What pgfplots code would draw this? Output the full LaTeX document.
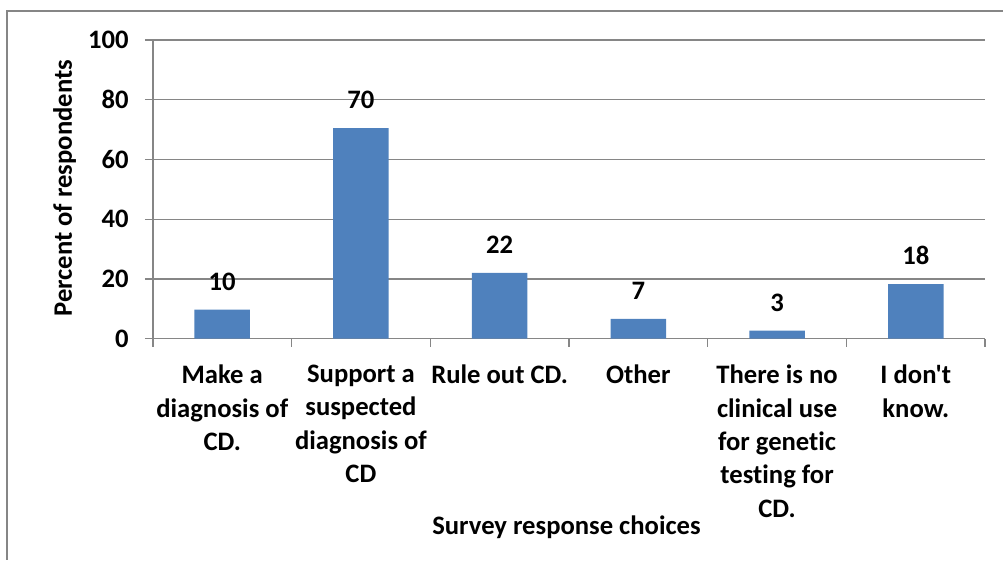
\documentclass[border=0pt]{standalone}
\usepackage{pgfplots}
\pgfplotsset{compat=1.18}
\usepackage{fontspec}
\setmainfont{Carlito}[Ligatures={TeXOff,CommonOff}]
\definecolor{barblue}{HTML}{4F81BD}
\definecolor{gridgray}{HTML}{868686}
\newcommand{\lbl}{\fontsize{20}{25.1}\selectfont\bfseries}
\begin{document}
\begin{tikzpicture}[x=0.75pt,y=0.75pt]
\path (0,0) rectangle (1004,560);
\draw[gridgray, line width=1.3pt] (7,0) -- (7,549) -- (1004,549);
\begin{axis}[
  at={(114.75pt,165.75pt)}, anchor=south west,
  scale only axis, width=624.75pt, height=224.25pt,
  xmin=-0.5, xmax=5.5, ymin=0, ymax=100,
  clip=false,
  /pgf/number format/assume math mode=true,
  axis lines*=left,
  axis line style={gridgray, line width=1pt, -},
  tick align=outside,
  major tick length=6pt,
  tick style={gridgray, line width=1pt},
  ymajorgrids, grid style={gridgray, line width=1pt},
  ytick={0,20,...,100},
  yticklabel style={font=\lbl, inner sep=0pt, anchor=east, xshift=-12pt},
  xtick={-0.5,0.5,...,5.5}, xticklabels={},
  extra x ticks={0,1,2,3,4,5},
  extra x tick labels={{Make a\\diagnosis of\\CD.},{Support a\\suspected\\diagnosis of\\CD},{Rule out CD.},{Other},{There is no\\clinical use\\for genetic\\testing for\\CD.},{I don't\\know.}},
  extra x tick style={major tick length=0pt, grid=none,
     xticklabel style={font=\lbl, align=center, anchor=north, inner sep=0pt, yshift=-19.5pt}},
]
\addplot[ybar, fill=barblue, draw=none, bar width=0.4,
  nodes near coords, point meta=explicit symbolic,
  nodes near coords style={font=\lbl, anchor=south, inner sep=0pt, yshift=14.25pt}]
  coordinates {(0,9.7)[10] (1,70.5)[70] (2,22.0)[22] (3,6.6)[7] (4,2.7)[3] (5,18.3)[18]};
\end{axis}
\node[font=\lbl, rotate=90, anchor=base] at (72,371.5) {Percent of respondents};
\node[font=\lbl, anchor=base] at (567,25) {Survey response choices};
\end{tikzpicture}
\end{document}
